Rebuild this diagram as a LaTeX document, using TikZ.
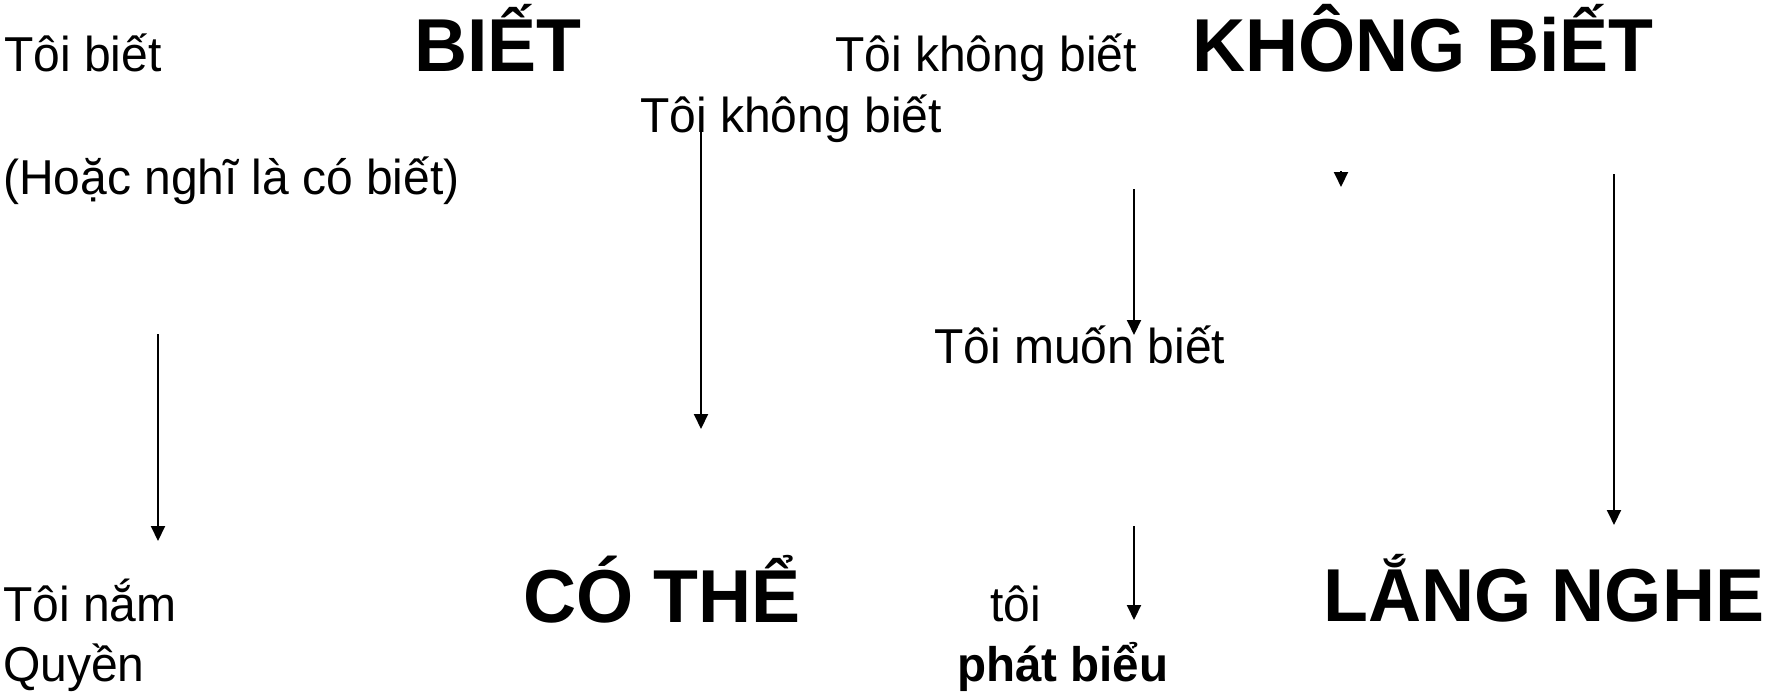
\documentclass[tikz,border=0pt]{standalone}
\usepackage{fontspec}
\setmainfont{Liberation Sans}[FakeStretch=0.98]
\usetikzlibrary{arrows.meta}
\tikzset{
  txt/.style={anchor=base west, inner sep=0pt, font=\fontsize{49}{58}\selectfont},
  big/.style={anchor=base west, inner sep=0pt, font=\fontsize{75}{88}\selectfont\bfseries},
  bld/.style={anchor=base west, inner sep=0pt, font=\fontsize{48.5}{58}\selectfont\bfseries},
  arr/.style={line width=2pt, -{Triangle[length=15pt,width=14pt]}}
}
\begin{document}
\begin{tikzpicture}[x=1pt,y=-1pt]
\useasboundingbox (0,0) rectangle (1767,693);
% texts
\node[txt] (t1) at (4,72) {Tôi biết};
\node[big] (biet) at (414,71) {BIẾT};
\node[txt] (t2) at (835,72) {Tôi không biết};
\node[big] (khongbiet) at (1192,71) {KHÔNG BiẾT};
\node[txt] (t3) at (640,132) {Tôi không biết};
\node[txt] (t4) at (3,194) {(Hoặc nghĩ là có biết)};
\node[txt] (t5) at (934,363) {Tôi muốn biết};
\node[txt] (t6) at (3,621) {Tôi nắm};
\node[txt] (t7) at (3,681) {Quyền};
\node[big] (cothe) at (523,622) {CÓ THỂ};
\node[txt] (t8) at (990,621) {tôi};
\node[bld] (phatbieu) at (957,681) {phát biểu};
\node[big] (langnghe) at (1323,621) {LẮNG NGHE};
% arrow end points
\coordinate (a1s) at (158,334); \coordinate (a1e) at (158,541);
\coordinate (a2s) at (701,130); \coordinate (a2e) at (701,429);
\coordinate (a3s) at (1134,189); \coordinate (a3e) at (1134,335);
\coordinate (a4s) at (1341,171); \coordinate (a4e) at (1341,187);
\coordinate (a5s) at (1614,174); \coordinate (a5e) at (1614,525);
\coordinate (a6s) at (1134,526); \coordinate (a6e) at (1134,620);
\draw[arr] (a1s) -- (a1e);
\draw[arr] (a2s) -- (a2e);
\draw[arr] (a3s) -- (a3e);
\draw[arr] (a4s) -- (a4e);
\draw[arr] (a5s) -- (a5e);
\draw[arr] (a6s) -- (a6e);
\end{tikzpicture}
\end{document}
